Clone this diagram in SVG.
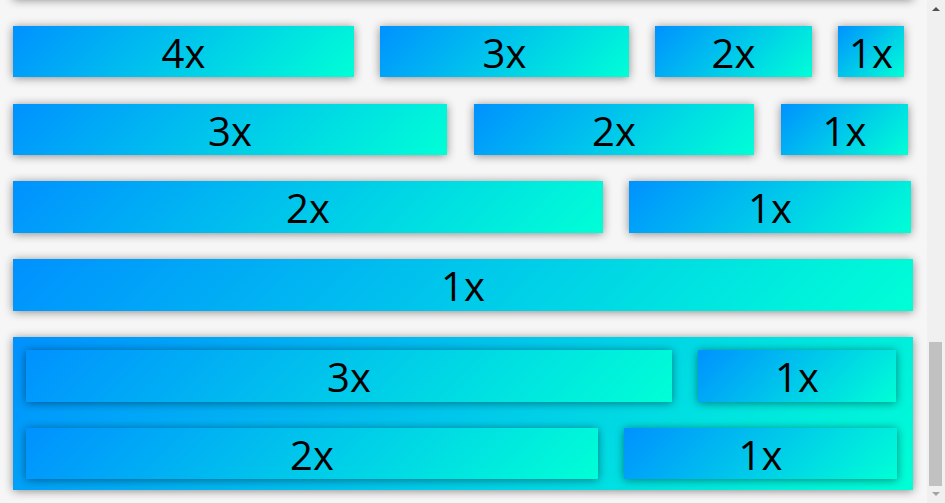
<svg xmlns="http://www.w3.org/2000/svg" width="945" height="503" viewBox="0 0 945 503">
<defs>
<linearGradient id="g">
<stop offset="0" stop-color="#0091ff"/>
<stop offset="1" stop-color="#00ffd6"/>
</linearGradient>
<linearGradient id="g0" href="#g" gradientUnits="userSpaceOnUse" x1="13" y1="-60" x2="492" y2="419"/>
<linearGradient id="g1" href="#g" gradientUnits="userSpaceOnUse" x1="13" y1="26" x2="209" y2="222"/>
<linearGradient id="g2" href="#g" gradientUnits="userSpaceOnUse" x1="380" y1="26" x2="530" y2="176"/>
<linearGradient id="g3" href="#g" gradientUnits="userSpaceOnUse" x1="655" y1="26" x2="759" y2="130"/>
<linearGradient id="g4" href="#g" gradientUnits="userSpaceOnUse" x1="838" y1="26" x2="896.5" y2="84.5"/>
<linearGradient id="g5" href="#g" gradientUnits="userSpaceOnUse" x1="13" y1="104" x2="255.5" y2="346.5"/>
<linearGradient id="g6" href="#g" gradientUnits="userSpaceOnUse" x1="474" y1="104" x2="639.5" y2="269.5"/>
<linearGradient id="g7" href="#g" gradientUnits="userSpaceOnUse" x1="781" y1="104" x2="870" y2="193"/>
<linearGradient id="g8" href="#g" gradientUnits="userSpaceOnUse" x1="13" y1="181" x2="334" y2="502"/>
<linearGradient id="g9" href="#g" gradientUnits="userSpaceOnUse" x1="629" y1="181" x2="796" y2="348"/>
<linearGradient id="g10" href="#g" gradientUnits="userSpaceOnUse" x1="13" y1="259" x2="489" y2="735"/>
<linearGradient id="g11" href="#g" gradientUnits="userSpaceOnUse" x1="13" y1="337" x2="539.5" y2="863.5"/>
<linearGradient id="g12" href="#g" gradientUnits="userSpaceOnUse" x1="26" y1="350" x2="375" y2="699"/>
<linearGradient id="g13" href="#g" gradientUnits="userSpaceOnUse" x1="698" y1="350" x2="823" y2="475"/>
<linearGradient id="g14" href="#g" gradientUnits="userSpaceOnUse" x1="26" y1="428" x2="337.5" y2="739.5"/>
<linearGradient id="g15" href="#g" gradientUnits="userSpaceOnUse" x1="624" y1="428" x2="786" y2="590"/>
<filter id="sh" x="-20%" y="-60%" width="140%" height="220%">
<feDropShadow dx="0" dy="1" stdDeviation="5" flood-color="#000" flood-opacity="0.45"/>
</filter>
</defs>
<style>
.b{filter:url(#sh)}
.t{font-family:"Open Sans","Noto Sans","DejaVu Sans",sans-serif;font-size:40px;fill:#000;text-anchor:middle}
</style>
<rect x="0" y="0" width="945" height="503" fill="#f6f6f6"/>
<rect x="13" y="-60" width="900" height="59" class="b" fill="url(#g0)"/>
<g id="r1-4x"><rect class="b" fill="url(#g1)" x="13" y="26" width="341" height="51"/><text class="t" x="183.5" y="67.5">4x</text></g>
<g id="r1-3x"><rect class="b" fill="url(#g2)" x="380" y="26" width="249" height="51"/><text class="t" x="504.5" y="67.5">3x</text></g>
<g id="r1-2x"><rect class="b" fill="url(#g3)" x="655" y="26" width="157" height="51"/><text class="t" x="733.5" y="67.5">2x</text></g>
<g id="r1-1x"><rect class="b" fill="url(#g4)" x="838" y="26" width="66" height="51"/><text class="t" x="871" y="67.5">1x</text></g>
<g id="r2-3x"><rect class="b" fill="url(#g5)" x="13" y="104" width="434" height="51"/><text class="t" x="230" y="145.5">3x</text></g>
<g id="r2-2x"><rect class="b" fill="url(#g6)" x="474" y="104" width="280" height="51"/><text class="t" x="614" y="145.5">2x</text></g>
<g id="r2-1x"><rect class="b" fill="url(#g7)" x="781" y="104" width="127" height="51"/><text class="t" x="844.5" y="145.5">1x</text></g>
<g id="r3-2x"><rect class="b" fill="url(#g8)" x="13" y="181" width="590" height="52"/><text class="t" x="308" y="223">2x</text></g>
<g id="r3-1x"><rect class="b" fill="url(#g9)" x="629" y="181" width="282" height="52"/><text class="t" x="770" y="223">1x</text></g>
<g id="r4-1x"><rect class="b" fill="url(#g10)" x="13" y="259" width="900" height="52"/><text class="t" x="463" y="301">1x</text></g>
<g id="container">
<rect class="b" fill="url(#g11)" x="13" y="337" width="900" height="153"/>
<g id="c1-3x"><rect class="b" fill="url(#g12)" x="26" y="350" width="646" height="52"/><text class="t" x="349" y="392">3x</text></g>
<g id="c1-1x"><rect class="b" fill="url(#g13)" x="698" y="350" width="198" height="52"/><text class="t" x="797" y="392">1x</text></g>
<g id="c2-2x"><rect class="b" fill="url(#g14)" x="26" y="428" width="572" height="51"/><text class="t" x="312" y="469.5">2x</text></g>
<g id="c2-1x"><rect class="b" fill="url(#g15)" x="624" y="428" width="273" height="51"/><text class="t" x="760.5" y="469.5">1x</text></g>
</g>
<g id="scrollbar">
<rect x="927" y="0" width="18" height="503" fill="#f0f0f0"/>
<rect x="929" y="342" width="13" height="144" fill="#c1c1c1"/>
<path d="M932 11 L936 7 L940 11 Z" fill="#505050"/>
<path d="M932 492 L936 496 L940 492 Z" fill="#a3a3a3"/>
</g>
</svg>
